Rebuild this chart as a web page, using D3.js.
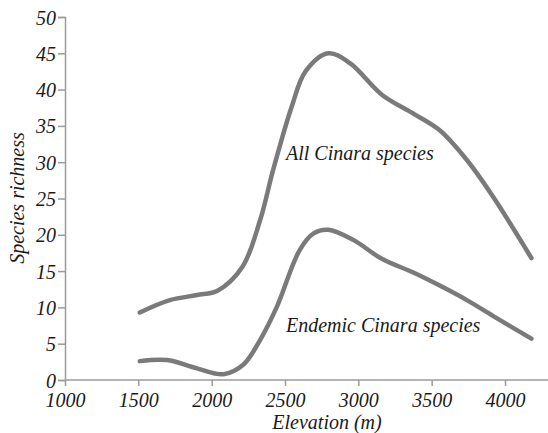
<!DOCTYPE html>
<html><head><meta charset="utf-8">
<script src="https://cdn.jsdelivr.net/npm/d3@7"></script>
<style>
body{margin:0;background:#fff}
svg text{font-family:"Liberation Serif","Times New Roman",serif;font-style:italic;}
</style>
</head><body><svg id="c" width="548" height="433"></svg>
<script>
const xTicks = [1000,1500,2000,2500,3000,3500,4000];
const yTicks = [0,5,10,15,20,25,30,35,40,45,50];
const allElev = [1510,1715,1900,2040,2210,2330,2420,2545,2640,2795,2945,3160,3375,3555,3740,3920,4180];
const allVals = [9.3,11.0,11.7,12.3,15.6,22.0,29.0,37.6,42.5,45.0,43.6,39.3,36.7,34.4,30.3,25.2,16.8];
const endElev = [1510,1695,1900,2080,2215,2330,2445,2600,2695,2795,2965,3160,3375,3555,3740,3920,4180];
const endVals = [2.6,2.75,1.6,0.8,2.1,5.5,10.1,17.9,20.2,20.7,19.3,16.7,14.8,13.0,11.0,8.8,5.7];
const labels = ["All Cinara species","Endemic Cinara species"];

const FONT = "Liberation Serif";
const svg = d3.select("#c");
const x = d3.scaleLinear().domain([1000,4000]).range([65,505]);
const y = d3.scaleLinear().domain([0,50]).range([380,17]);

const axisCol = "#9a9a9a";
const gx = svg.append("g").attr("transform","translate(0,380)")
  .call(d3.axisBottom(x).tickValues(xTicks).tickSize(6).tickPadding(3).tickFormat(d3.format("d")));
gx.select(".domain").attr("d","M65,0H548");
const gy = svg.append("g").attr("transform","translate(65,0)")
  .call(d3.axisLeft(y).tickValues(yTicks).tickSize(7).tickPadding(2).tickFormat(d3.format("d")));
[gx,gy].forEach(g=>{
  g.attr("font-family",FONT).attr("font-size",20);
  g.selectAll("path,line").attr("stroke",axisCol).attr("stroke-width",1.5);
  g.selectAll("text").attr("font-family",FONT).attr("font-style","italic").attr("fill","#1a1a1a");
});
gx.selectAll("text").attr("dy","0.9em");
gy.selectAll("text").attr("dy","0.35em");

const line = d3.line().x(d=>x(d[0])).y(d=>y(d[1])).curve(d3.curveCatmullRom.alpha(0.5));
[[allElev,allVals],[endElev,endVals]].forEach(([e,v])=>{
  svg.append("path").datum(e.map((d,i)=>[d,v[i]]))
    .attr("d",line).attr("fill","none").attr("stroke","#7a7a7a").attr("stroke-width",4.5).attr("stroke-linecap","round");
});

function lab(xp,yp,s,anchor,tr){
  const el = svg.append("text").attr("font-family",FONT).attr("font-size",20).attr("font-style","italic").attr("fill","#1a1a1a").text(s);
  if(tr) el.attr("transform",tr); else el.attr("x",xp).attr("y",yp);
  if(anchor) el.attr("text-anchor",anchor);
}
lab(286,160,labels[0]);
lab(286,332,labels[1]);
lab(327,429,"Elevation (m)","middle");
lab(0,0,"Species richness","middle","translate(24,198) rotate(-90)");
</script></body></html>
